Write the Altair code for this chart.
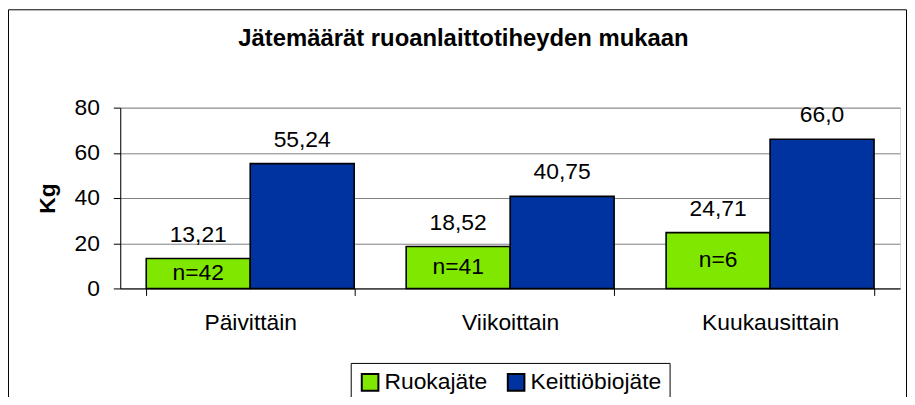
import altair as alt
import pandas as pd

categories = ["Päivittäin", "Viikoittain", "Kuukausittain"]
series = ["Ruokajäte", "Keittiöbiojäte"]
ruoka = [13.21, 18.52, 24.71]
keittio = [55.24, 40.75, 66.0]
ruoka_labels = ["13,21", "18,52", "24,71"]
keittio_labels = ["55,24", "40,75", "66,0"]
n_labels = ["n=42", "n=41", "n=6"]
colors = ["#80E800", "#0033A0"]
y_ticks = [0, 20, 40, 60, 80]

rows = []
for i, c in enumerate(categories):
    rows.append({"cat": c, "series": series[0], "value": ruoka[i], "label": ruoka_labels[i], "n": n_labels[i]})
    rows.append({"cat": c, "series": series[1], "value": keittio[i], "label": keittio_labels[i], "n": ""})
df = pd.DataFrame(rows)

FONT = "Liberation Sans"
FS = 23

x_enc = alt.X("cat:N", sort=categories, title=None,
              scale=alt.Scale(paddingInner=0.2, paddingOuter=0.1),
              axis=alt.Axis(labelAngle=0, tickBand="extent", tickSize=7, tickColor="black",
                            domainColor="black", labelFontSize=FS, labelPadding=16,
                            labelColor="black", grid=False, labelFont=FONT))
xo_enc = alt.XOffset("series:N", sort=series, scale=alt.Scale(paddingInner=0, paddingOuter=0))
y_enc = alt.Y("value:Q", title="Kg",
              scale=alt.Scale(domain=[0, 80], nice=False),
              axis=alt.Axis(values=y_ticks, grid=True, gridColor="#808080", domainColor="black",
                            tickColor="black", tickSize=7, labelFontSize=FS, labelPadding=14,
                            labelColor="black", titleFontSize=FS, titleFontWeight="bold",
                            titlePadding=15, titleColor="black", labelFont=FONT, titleFont=FONT))

base = alt.Chart(df)

bars = base.mark_bar(stroke="black", strokeWidth=1.6).encode(
    x=x_enc, xOffset=xo_enc, y=y_enc,
    color=alt.Color("series:N", sort=series,
                    scale=alt.Scale(domain=series, range=colors),
                    legend=alt.Legend(orient="none", legendX=232, legendY=257, direction="horizontal",
                                      title=None, symbolType="square", symbolSize=280,
                                      symbolStrokeColor="black", symbolStrokeWidth=2,
                                      labelFontSize=FS, labelFont=FONT, labelColor="black",
                                      padding=8, strokeColor="black", fillColor="white",
                                      columnPadding=16, labelOffset=3)),
)

value_text = base.mark_text(fontSize=FS, font=FONT, color="black", baseline="middle", dy=-24).encode(
    x=x_enc, xOffset=xo_enc, y=alt.Y("value:Q"), text="label:N"
)

n_text = base.transform_filter(alt.datum.series == series[0]).transform_calculate(
    half="datum.value / 2"
).mark_text(fontSize=FS, font=FONT, color="black", baseline="middle").encode(
    x=x_enc, xOffset=xo_enc, y=alt.Y("half:Q"), text="n:N"
)

border = alt.Chart(pd.DataFrame({"a": [0]})).mark_rect(
    fillOpacity=0, stroke="black", strokeWidth=1
).encode(
    x=alt.value(-112.5), x2=alt.value(791.5), y=alt.value(-98.5), y2=alt.value(400)
)

chart = alt.layer(border, bars, value_text, n_text).properties(
    width=785, height=182,
    autosize=alt.AutoSizeParams(type="none"),
    padding={"left": 113, "top": 99, "right": 7, "bottom": 108},
    title=alt.TitleParams("Jätemäärät ruoanlaittotiheyden mukaan", fontSize=24, font=FONT,
                          fontWeight="bold", color="black", anchor="middle", dx=-47, offset=-42),
).configure_view(stroke="#808080", strokeWidth=1).configure(font=FONT)

chart.save("out.html", embed_options={"renderer": "svg", "actions": False})
